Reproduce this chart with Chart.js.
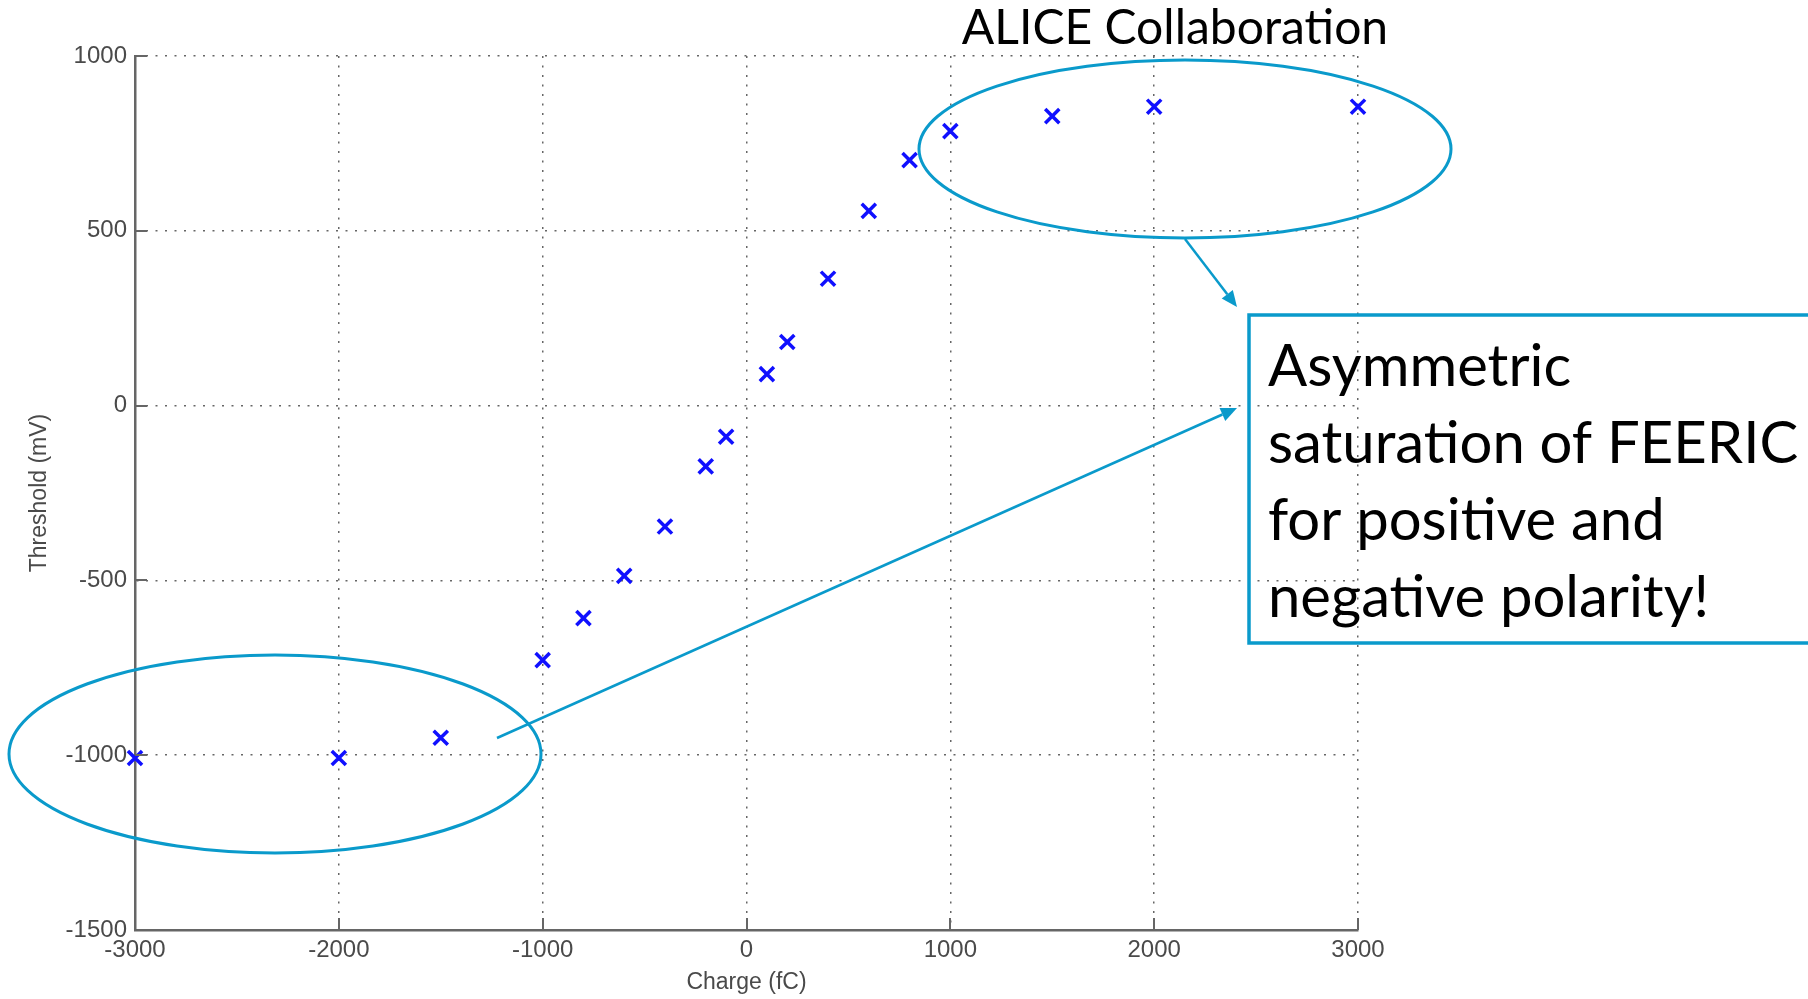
<!DOCTYPE html>
<html>
<head>
<meta charset="utf-8">
<script src="https://cdn.jsdelivr.net/npm/chart.js@4/dist/chart.umd.min.js"></script>
<style>
  html, body { margin: 0; padding: 0; background: #fff; }
  #wrap { width: 1808px; height: 999px; position: relative; }
</style>
</head>
<body>
<div id="wrap"><canvas id="chart"></canvas></div>
<script>
// threshold scan: charge injected (fC) vs measured threshold (mV)
const charge = [-3000, -2000, -1500, -1000, -800, -600, -400, -200, -100,
                100, 200, 400, 600, 800, 1000, 1500, 2000, 3000];
const threshold = [-1008, -1008, -950, -728, -608, -487, -346, -174, -89,
                   90, 182, 363, 557, 702, 785, 828, 855, 855];

const xTicks = [-3000, -2000, -1000, 0, 1000, 2000, 3000];
const yTicks = [-1500, -1000, -500, 0, 500, 1000];

const axisGray = '#666';
const textGray = '#4a4a4a';
const accent = '#0a9acb';

// matlab style inward tick marks
const innerTicks = {
  id: 'innerTicks',
  afterDraw(chart) {
    const { ctx, chartArea: a, scales: { x, y } } = chart;
    ctx.save();
    ctx.strokeStyle = axisGray;
    ctx.lineWidth = 2;
    ctx.beginPath();
    xTicks.forEach(v => {
      const px = Math.round(x.getPixelForValue(v));
      ctx.moveTo(px, a.bottom);
      ctx.lineTo(px, a.bottom - 12);
    });
    yTicks.forEach(v => {
      const py = Math.round(y.getPixelForValue(v));
      ctx.moveTo(a.left, py);
      ctx.lineTo(a.left + 12, py);
    });
    ctx.stroke();
    ctx.restore();
  }
};

function arrow(ctx, x1, y1, x2, y2) {
  const ang = Math.atan2(y2 - y1, x2 - x1);
  const len = 16, half = 7;
  const bx = x2 - len * Math.cos(ang), by = y2 - len * Math.sin(ang);
  ctx.beginPath();
  ctx.moveTo(x1, y1);
  ctx.lineTo(bx, by);
  ctx.stroke();
  ctx.beginPath();
  ctx.moveTo(x2, y2);
  ctx.lineTo(bx + half * Math.sin(ang), by - half * Math.cos(ang));
  ctx.lineTo(bx - half * Math.sin(ang), by + half * Math.cos(ang));
  ctx.closePath();
  ctx.fill();
}

// slide callouts drawn over the plot
const callouts = {
  id: 'callouts',
  afterDraw(chart) {
    const ctx = chart.ctx;
    ctx.save();
    ctx.strokeStyle = accent;
    ctx.fillStyle = accent;
    ctx.lineWidth = 3;

    ctx.beginPath();
    ctx.ellipse(1185, 149, 266, 89, 0, 0, Math.PI * 2);
    ctx.stroke();
    ctx.beginPath();
    ctx.ellipse(275, 754, 266, 99, 0, 0, Math.PI * 2);
    ctx.stroke();

    ctx.lineWidth = 2.5;
    arrow(ctx, 1185, 239, 1237, 307);
    arrow(ctx, 497, 738, 1237, 408);

    ctx.lineWidth = 3.5;
    ctx.strokeRect(1249, 315, 620, 328);

    ctx.fillStyle = '#000';
    ctx.textBaseline = 'alphabetic';
    ctx.font = '48px Lato';
    ctx.textAlign = 'center';
    ctx.fillText('ALICE Collaboration', 1175, 44);

    ctx.textAlign = 'left';
    ctx.font = '58px Lato';
    const lines = ['Asymmetric', 'saturation of FEERIC', 'for positive and', 'negative polarity!'];
    lines.forEach((t, i) => ctx.fillText(t, 1268, 386 + i * 77));
    ctx.restore();
  }
};

const tickFont = { family: 'Liberation Sans', size: 24 };
const titleFont = { family: 'Liberation Sans', size: 23 };
const plain = v => String(v);

new Chart(document.getElementById('chart'), {
  type: 'scatter',
  data: {
    datasets: [{
      data: charge.map((c, i) => ({ x: c, y: threshold[i] })),
      pointStyle: 'crossRot',
      pointRadius: 10,
      pointBorderWidth: 3.5,
      borderColor: '#1010ff',
      backgroundColor: '#1010ff',
      clip: false
    }]
  },
  options: {
    responsive: true,
    maintainAspectRatio: false,
    animation: false,
    layout: { padding: { left: 0, right: 450, top: 56, bottom: 0 } },
    plugins: { legend: { display: false }, tooltip: { enabled: false } },
    scales: {
      x: {
        type: 'linear',
        min: -3000, max: 3000,
        afterBuildTicks: s => { s.ticks = xTicks.map(v => ({ value: v })); },
        afterFit: s => { s.height = 69; },
        grid: { color: axisGray, lineWidth: 1.5, drawTicks: false },
        border: { display: true, color: axisGray, width: 2.5, dash: [2, 7.5] },
        ticks: { color: textGray, font: tickFont, padding: 6, maxRotation: 0, callback: plain },
        title: { display: true, text: 'Charge (fC)', color: textGray, font: titleFont, padding: { top: 0, bottom: 3 } }
      },
      y: {
        type: 'linear',
        min: -1500, max: 1000,
        afterBuildTicks: s => { s.ticks = yTicks.map(v => ({ value: v })); },
        afterFit: s => { s.width = 135; },
        grid: { color: axisGray, lineWidth: 1.5, drawTicks: false },
        border: { display: true, color: axisGray, width: 2.5, dash: [2, 7.5] },
        ticks: { color: textGray, font: tickFont, padding: 8, callback: plain },
        title: { display: true, text: 'Threshold (mV)', color: textGray, font: titleFont, padding: { top: 26, bottom: 0 } }
      }
    }
  },
  plugins: [innerTicks, callouts]
});
</script>
</body>
</html>
